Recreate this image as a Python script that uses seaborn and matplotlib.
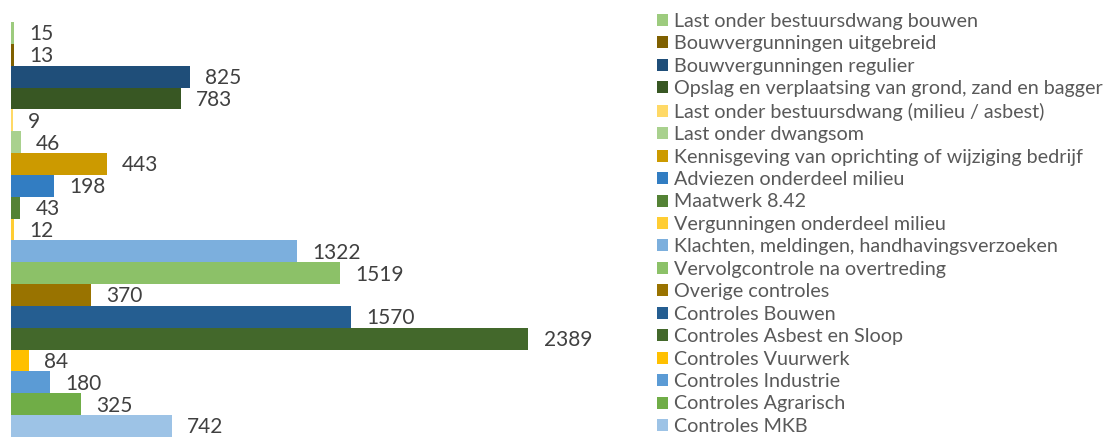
import matplotlib
matplotlib.use('Agg')
import matplotlib.pyplot as plt
import seaborn as sns
import pandas as pd
from matplotlib.patches import Patch

categories = [
    'Last onder bestuursdwang bouwen',
    'Bouwvergunningen uitgebreid',
    'Bouwvergunningen regulier',
    'Opslag en verplaatsing van grond, zand en bagger',
    'Last onder bestuursdwang (milieu / asbest)',
    'Last onder dwangsom',
    'Kennisgeving van oprichting of wijziging bedrijf',
    'Adviezen onderdeel milieu',
    'Maatwerk 8.42',
    'Vergunningen onderdeel milieu',
    'Klachten, meldingen, handhavingsverzoeken',
    'Vervolgcontrole na overtreding',
    'Overige controles',
    'Controles Bouwen',
    'Controles Asbest en Sloop',
    'Controles Vuurwerk',
    'Controles Industrie',
    'Controles Agrarisch',
    'Controles MKB',
]
values = [15, 13, 825, 783, 9, 46, 443, 198, 43, 12,
          1322, 1519, 370, 1570, 2389, 84, 180, 325, 742]
colors = ['#9DCB7E', '#7F6000', '#1F4E79', '#385723', '#FFD966',
          '#A9D18E', '#CC9A00', '#327DC2', '#548235', '#FFCD33',
          '#7CAFDD', '#8CC168', '#997300', '#255E91', '#43682B',
          '#FFC000', '#5B9BD5', '#70AD47', '#9DC3E6']

df = pd.DataFrame({'cat': categories, 'val': values})
palette = dict(zip(categories, colors))

sns.set_style('white')
plt.rcParams['font.family'] = ['Lato', 'DejaVu Sans']

fig = plt.figure(figsize=(11.1, 4.37), dpi=100)
ax = fig.add_axes([11 / 1110, 0.0, 563 / 1110, 1 - 22 / 437])

sns.barplot(data=df, y='cat', x='val', hue='cat', palette=palette,
            order=categories, hue_order=categories, dodge=False,
            width=1.0, legend=False, saturation=1, linewidth=0,
            edgecolor='none', ax=ax)

for i, v in enumerate(values):
    ax.annotate(str(v), xy=(v, i), xytext=(11, -1), textcoords='offset points',
                va='center', ha='left', fontsize=15, color='#404040')

ax.set_xlim(0, 2600)
ax.set_ylim(len(categories) - 0.5, -0.5)
ax.set_xlabel('')
ax.set_ylabel('')
ax.set_xticks([])
ax.set_yticks([])
sns.despine(ax=ax, left=True, bottom=True)

handles = [Patch(facecolor=c, edgecolor='none') for c in colors]
fig.legend(handles, categories, loc='upper left', bbox_to_anchor=(649 / 1110, 1 - 5 / 437),
           frameon=False, fontsize=14.2, labelcolor='#595959',
           handlelength=0.56, handleheight=0.56, handletextpad=0.3,
           labelspacing=0.276, borderaxespad=0)

fig.savefig('out.png', dpi=100)
